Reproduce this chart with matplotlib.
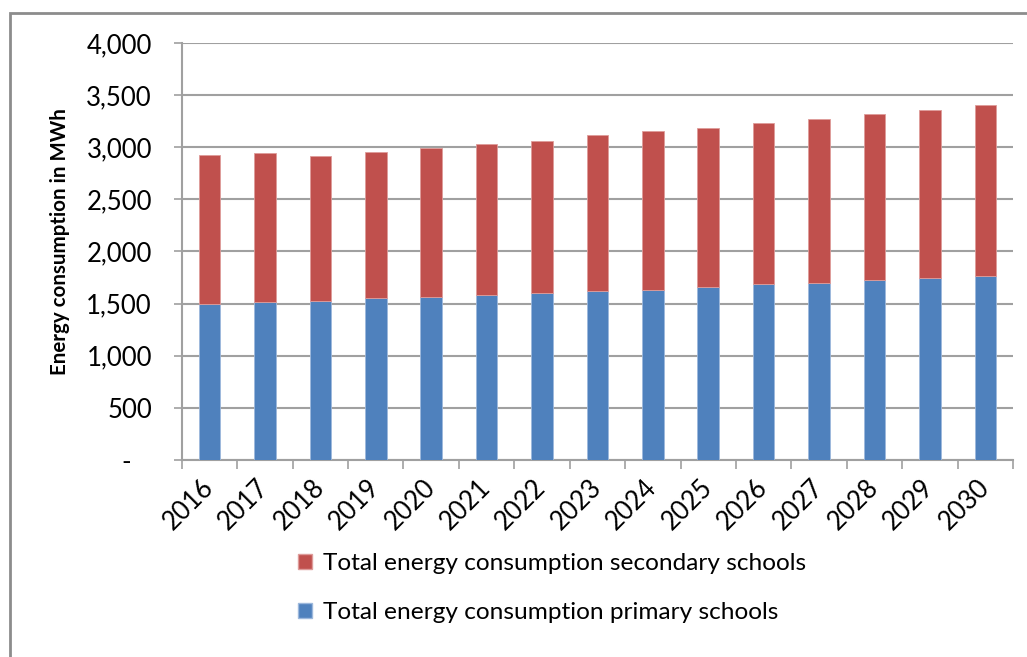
import matplotlib
matplotlib.use("Agg")
import matplotlib.pyplot as plt
from matplotlib.patches import Rectangle, Patch
from matplotlib.ticker import FuncFormatter
import numpy as np

plt.rcParams['font.family'] = ['Lato', 'DejaVu Sans']

# Yearly consumption (MWh)
years = ['2016', '2017', '2018', '2019', '2020', '2021', '2022', '2023',
         '2024', '2025', '2026', '2027', '2028', '2029', '2030']
primary = [1497, 1512, 1526, 1551, 1561, 1587, 1599, 1625,
           1635, 1660, 1689, 1699, 1724, 1747, 1769]
total = [2930, 2942, 2920, 2955, 2997, 3029, 3064, 3115,
         3151, 3189, 3228, 3272, 3314, 3353, 3401]
secondary = [t - p for t, p in zip(total, primary)]

label_secondary = 'Total energy consumption secondary schools'
label_primary = 'Total energy consumption primary schools'

blue = '#4F81BD'
red = '#C0504D'
grid_grey = '#A0A0A0'

fig = plt.figure(figsize=(10.27, 6.57), dpi=100)
ax = fig.add_axes([0.177, 0.2998, 0.8094, 0.6348])

x = np.arange(len(years))
ax.bar(x, primary, width=0.39, color=blue, edgecolor='#9DB8DC', linewidth=0.6, zorder=3)
ax.bar(x, secondary, bottom=primary, width=0.39, color=red,
       edgecolor='#DE9C9A', linewidth=0.6, zorder=3)

ax.set_xlim(-0.5, len(years) - 0.5)
ax.set_ylim(0, 4000)
ax.set_yticks(np.arange(0, 4001, 500))
ax.yaxis.set_major_formatter(FuncFormatter(lambda v, p: '-   ' if v == 0 else f'{int(v):,}'))
ax.grid(axis='y', color=grid_grey, linewidth=1.5, zorder=0)

# category ticks sit between bars, labels centred under bars
ax.set_xticks(np.arange(-0.5, len(years), 1.0))
ax.set_xticklabels([])
ax.set_xticks(x, minor=True)
ax.set_xticklabels(years, minor=True, rotation=45, ha='right', va='center',
                   rotation_mode='anchor', fontsize=18.5)
ax.tick_params(axis='x', which='minor', length=0, pad=17)
ax.tick_params(axis='x', which='major', length=6.5, width=1.2, color=grid_grey)
ax.tick_params(axis='y', length=6, width=1.2, color=grid_grey, labelsize=18.5, pad=15.5)

for side in ['top', 'right']:
    ax.spines[side].set_visible(False)
for side in ['left', 'bottom']:
    ax.spines[side].set_color(grid_grey)
    ax.spines[side].set_linewidth(1.5)

fig.text(0.058, 0.633, 'Energy consumption in MWh', rotation=90, fontsize=14.8,
         fontweight='bold', ha='center', va='center')

handles = [Patch(facecolor=red, edgecolor='#DE9C9A'), Patch(facecolor=blue, edgecolor='#9DB8DC')]
fig.legend(handles, [label_secondary, label_primary], loc='upper left',
           bbox_to_anchor=(0.290, 0.158), frameon=False, fontsize=17.6,
           handlelength=0.58, handleheight=0.58, handletextpad=0.45,
           labelspacing=1.15, borderpad=0, borderaxespad=0)

# outer chart frame
fig.patches.append(Rectangle((10 / 1027, -0.1), 1.2, 1 - 13 / 657 + 0.1,
                             transform=fig.transFigure, fill=False,
                             edgecolor='#8C8C8C', linewidth=2))

fig.savefig('out.png', dpi=100)
